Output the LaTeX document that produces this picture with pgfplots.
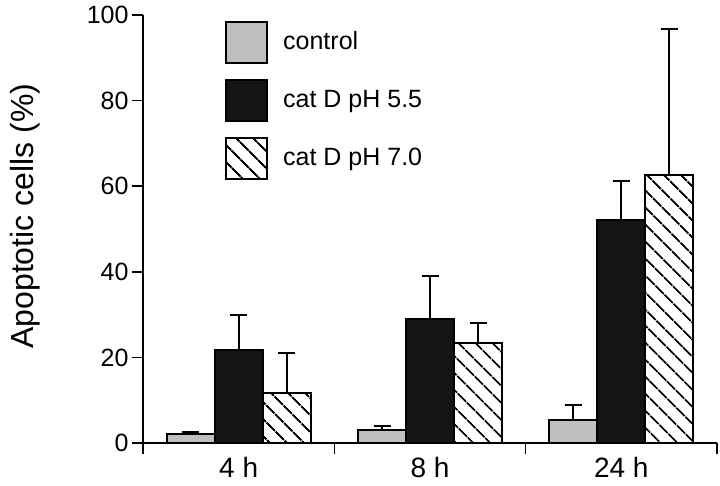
\documentclass[border=0pt]{standalone}
\usepackage{pgfplots}
\pgfplotsset{compat=1.18}
\usepackage{fontspec}
\setmainfont{Liberation Sans}
\usetikzlibrary{patterns.meta}
\begin{document}
\begin{tikzpicture}
\useasboundingbox (0,0) rectangle (720pt,485pt);
\begin{axis}[
  at={(143pt,42pt)}, anchor=south west,
  scale only axis, width=574pt, height=428pt,
  xmin=0, xmax=3, ymin=0, ymax=100,
  axis lines=left, axis line style={-, line width=2.4pt},
  ytick={0,20,40,60,80,100},
  xtick={0,1,2,3}, xticklabels={},
  extra x ticks={0.5,1.5,2.5}, extra x tick labels={4 h, 8 h, 24 h},
  extra x tick style={major tick length=0pt, tick style={draw=none},
    xticklabel style={font=\fontsize{28}{33}\selectfont, yshift=-11pt}},
  tick align=outside,
  major tick length=11pt,
  tick style={line width=1.6pt, black},
  /pgf/number format/assume math mode=true,
  ticklabel style={font=\fontsize{25}{30}\selectfont},
  ylabel={Apoptotic cells (\%)},
  ylabel style={font=\fontsize{32}{38}\selectfont, at={(rel axis cs:-0.205,0.53)}, anchor=center},
  ybar=0pt, bar width=48pt,
  error bars/y dir=plus, error bars/y explicit,
  error bars/error bar style={line width=2pt, black},
  error bars/error mark options={rotate=90, mark size=8.5pt, line width=2pt, black},
  legend style={at={(rel axis cs:0.1376,0.99)}, anchor=north west, draw=none, fill=none,
    font=\fontsize{25}{30}\selectfont, row sep=15pt, column sep=15pt,
    nodes={inner sep=0pt, anchor=base west}, cells={anchor=west}},
  legend image code/.code={\draw[#1, line width=2pt] (0pt,-14pt) rectangle (41pt,27pt);},
]
\addplot[draw=black, line width=2pt, fill=black!25] coordinates {
  (0.5,2.1) +- (0,0.5)
  (1.5,3.0) +- (0,1.0)
  (2.5,5.4) +- (0,3.5)
};
\addlegendentry{control}
\addplot[draw=black, line width=2pt, fill=black!92] coordinates {
  (0.5,21.7) +- (0,8.2)
  (1.5,29.0) +- (0,10.0)
  (2.5,52.1) +- (0,9.1)
};
\addlegendentry{cat D pH 5.5}
\addplot[draw=black, line width=2pt, fill=white, postaction={pattern={Lines[angle=-45,distance=13pt,line width=2pt]}}] coordinates {
  (0.5,11.7) +- (0,9.3)
  (1.5,23.4) +- (0,4.6)
  (2.5,62.6) +- (0,34.1)
};
\addlegendentry{cat D pH 7.0}
\end{axis}
\end{tikzpicture}
\end{document}
